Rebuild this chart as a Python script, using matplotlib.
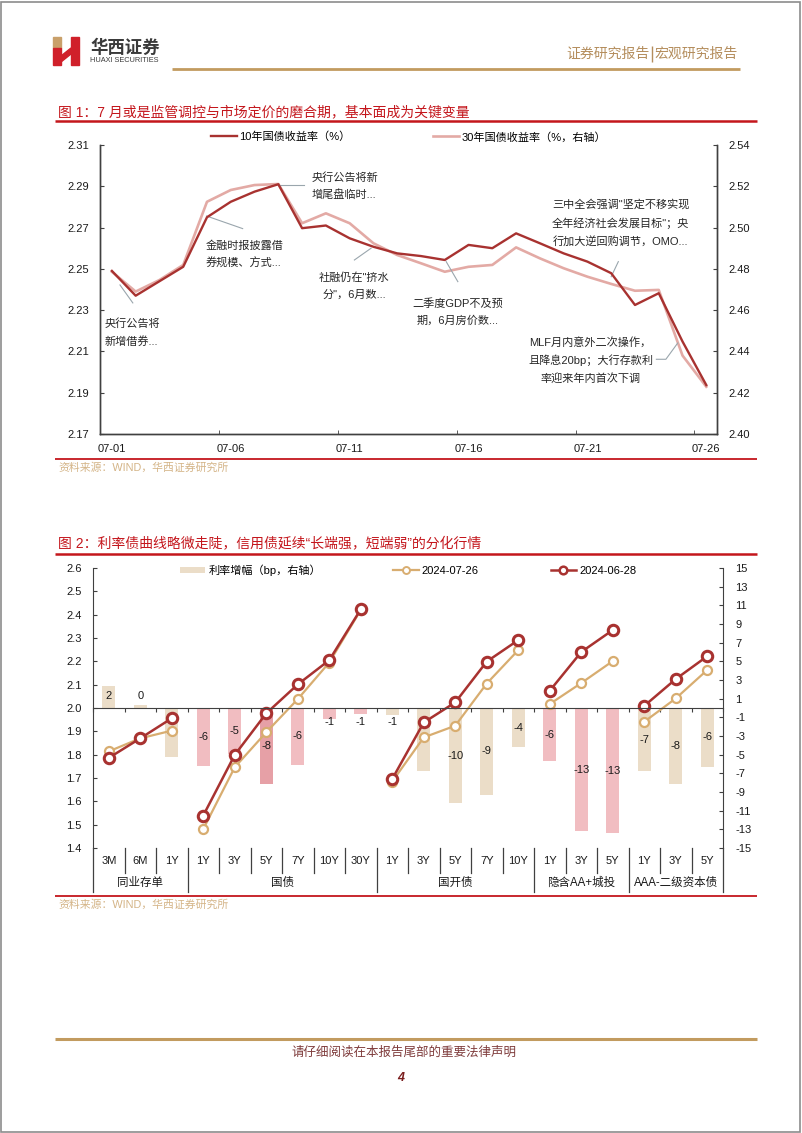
import matplotlib
matplotlib.use("Agg")
import matplotlib.pyplot as plt
import matplotlib.transforms as mtransforms
from matplotlib.lines import Line2D
from matplotlib.patches import Rectangle, Polygon, Patch
import numpy as np

plt.rcParams['font.family'] = ['Liberation Sans', 'Noto Sans CJK SC', 'DejaVu Sans']
plt.rcParams['axes.unicode_minus'] = False

##-----------------------------------------------------------------------------
## chart 1 data : 10Y / 30Y CGB yield, July 2024

dates = ['07-01', '07-02', '07-03', '07-04', '07-05', '07-06', '07-07', '07-08', '07-09',
         '07-10', '07-11', '07-12', '07-13', '07-14', '07-15', '07-16', '07-17', '07-18',
         '07-19', '07-20', '07-21', '07-22', '07-23', '07-24', '07-25', '07-26']
cgb10 = [2.249, 2.237, 2.244, 2.251, 2.275, 2.2825, 2.2874, 2.291, 2.2697,
         2.271, 2.2648, 2.2607, 2.2575, 2.2562, 2.2543, 2.2616, 2.260, 2.2672,
         2.2624, 2.2575, 2.2535, 2.2479, 2.2325, 2.2382, 2.2148, 2.1937]
cgb30 = [2.4786, 2.469, 2.4746, 2.4819, 2.5125, 2.5182, 2.5206, 2.5211, 2.5021,
         2.5069, 2.5021, 2.4924, 2.4867, 2.4827, 2.4786, 2.481, 2.4819, 2.4904,
         2.4851, 2.4803, 2.4762, 2.4727, 2.4694, 2.4698, 2.438, 2.4229]
date_labels = ['07-01', '07-06', '07-11', '07-16', '07-21', '07-26']

notes = ['央行公告将\n新增借券...',
         '金融时报披露借\n券规模、方式...',
         '央行公告将新\n增尾盘临时...',
         '社融仍在"挤水\n分"，6月数...',
         '二季度GDP不及预\n期，6月房价数...',
         '三中全会强调"坚定不移实现\n全年经济社会发展目标"；央\n行加大逆回购调节，OMO...',
         'MLF月内意外二次操作，\n且降息20bp；大行存款利\n率迎来年内首次下调']

##-----------------------------------------------------------------------------
## chart 2 data : yield curves

tenors = ['3M', '6M', '1Y', '1Y', '3Y', '5Y', '7Y', '10Y', '30Y', '1Y', '3Y', '5Y', '7Y', '10Y',
          '1Y', '3Y', '5Y', '1Y', '3Y', '5Y']
groups = ['同业存单', '国债', '国开债', '隐含AA+城投', 'AAA-二级资本债']
group_sizes = [3, 6, 5, 3, 3]
chg_bp = [2.4, 0.3, -5.3, -6.2, -4.9, -8.1, -6.1, -1.2, -0.6, -0.8, -6.7, -10.2, -9.3, -4.2,
          -5.7, -13.2, -13.4, -6.8, -8.1, -6.3]
y_0726 = [1.814, 1.870, 1.903, 1.481, 1.746, 1.896, 2.038, 2.195, 2.420, 1.685, 1.874, 1.924,
          2.105, 2.248, 2.017, 2.107, 2.201, 1.941, 2.041, 2.163]
y_0628 = [1.786, 1.870, 1.956, 1.539, 1.799, 1.977, 2.101, 2.205, 2.423, 1.696, 1.938, 2.024,
          2.199, 2.291, 2.074, 2.240, 2.334, 2.009, 2.124, 2.222]

##-----------------------------------------------------------------------------

W, H = 802, 1133
RED = '#C4161C'
GOLD = '#C29B5F'
DARK = '#A83230'
PINKLINE = '#E3AAA5'
TAN = '#D8AD70'
BEIGE = '#EBDDC8'
PINK = '#F1BDC1'
PINK_HI = '#E6A0A6'
AXC = '#404040'
TXT = '#1a1a1a'

fig = plt.figure(figsize=(W / 100, H / 100), dpi=100)


def fline(x0, x1, y0, y1, color, lw):
    fig.add_artist(Line2D([x0 / W, x1 / W], [1 - y0 / H, 1 - y1 / H], color=color, lw=lw,
                          solid_capstyle='butt'))


def ftext(x, y, s, **kw):
    fig.text(x / W, 1 - y / H, s, **kw)


# page frame
fig.add_artist(Rectangle((0.001, 0.001), 0.997, 0.997, transform=fig.transFigure,
                         fill=False, ec='#8c8c8c', lw=1.2))

# header logo
logo = [Rectangle((53 / W, 1 - 48 / H), 8 / W, 11 / H, color='#C9A06A'),
        Rectangle((53 / W, 1 - 65 / H), 8 / W, 17 / H, color='#D0202A'),
        Rectangle((71 / W, 1 - 65 / H), 8 / W, 28 / H, color='#D0202A'),
        Polygon([(61 / W, 1 - 56 / H), (71 / W, 1 - 48 / H), (71 / W, 1 - 54 / H),
                 (61 / W, 1 - 62 / H)], closed=True, color='#D0202A')]
for p in logo:
    p.set_transform(fig.transFigure)
    fig.add_artist(p)
ftext(90, 47, '华西证券', fontsize=12.5, fontweight='bold', color='#3a3a3a', va='center')
ftext(90, 61, 'HUAXI SECURITIES', fontsize=5.3, color='#3a3a3a', va='center')
ftext(650, 54, '证券研究报告', fontsize=10, color='#B48D5C', va='center', ha='right')
fline(652, 652, 46, 62, '#B48D5C', 1.0)
ftext(654, 54, '宏观研究报告', fontsize=10, color='#B48D5C', va='center', ha='left')
fline(172, 740, 69, 69, GOLD, 2.0)

# titles and sources
ftext(58, 112, '图 1：7 月或是监管调控与市场定价的磨合期，基本面成为关键变量', fontsize=10,
      color=RED, va='center')
fline(55, 757, 121, 121, RED, 1.8)
fline(55, 757, 459, 459, RED, 1.3)
ftext(58, 468, '资料来源：WIND，华西证券研究所', fontsize=7.8, color='#D4B487', va='center')

ftext(58, 544, '图 2：利率债曲线略微走陡，信用债延续“长端强，短端弱”的分化行情', fontsize=10,
      color=RED, va='center')
fline(55, 757, 554, 554, RED, 1.8)
fline(55, 757, 896, 896, RED, 1.3)
ftext(58, 905, '资料来源：WIND，华西证券研究所', fontsize=7.8, color='#D4B487', va='center')

# footer
fline(55, 757, 1039, 1039, GOLD, 2.2)
ftext(404, 1053, '请仔细阅读在本报告尾部的重要法律声明', fontsize=9, color='#7E3B3B',
      ha='center', va='center')
ftext(401, 1078, '4', fontsize=9, color='#7A1E1E', ha='center', va='center',
      fontweight='bold', style='italic')

##-----------------------------------------------------------------------------
## chart 1

ax1 = fig.add_axes([100 / W, 1 - 434 / H, 617 / W, 289 / H])
ax1r = ax1.twinx()
x = np.arange(len(dates))
l30, = ax1r.plot(x, cgb30, color=PINKLINE, lw=1.9, solid_joinstyle='round')
l10, = ax1.plot(x, cgb10, color=DARK, lw=1.7, solid_joinstyle='round')
ax1.set_zorder(ax1r.get_zorder() + 1)
ax1.patch.set_visible(False)

ax1.set_xlim(-0.5, 25.45)
ax1.set_ylim(2.17, 2.31)
ax1r.set_ylim(2.40, 2.54)
ax1.set_yticks(np.arange(2.17, 2.3101, 0.02))
ax1r.set_yticks(np.arange(2.40, 2.5401, 0.02))
ax1.yaxis.set_major_formatter(matplotlib.ticker.FormatStrFormatter('%.2f'))
ax1r.yaxis.set_major_formatter(matplotlib.ticker.FormatStrFormatter('%.2f'))
ax1.set_xticks([dates.index(d) for d in date_labels])
ax1.set_xticklabels(date_labels)
ax1.set_xticks(np.arange(-0.5, 25, 5), minor=True)
ax1.tick_params(axis='x', which='major', length=0, pad=7, labelsize=8, colors=TXT)
ax1.tick_params(axis='x', which='minor', length=3, direction='in', color=AXC)
ax1.tick_params(axis='y', length=3, direction='in', pad=8, labelsize=8, colors=TXT, color=AXC)
ax1r.tick_params(axis='y', length=3, direction='in', pad=8, labelsize=8, colors=TXT, color=AXC)
for a in (ax1, ax1r):
    a.spines['top'].set_visible(False)
    for s in ('left', 'right', 'bottom'):
        a.spines[s].set_color(AXC)
        a.spines[s].set_linewidth(1.0)

ax1.legend([l10, l30], ['10年国债收益率（%）', '30年国债收益率（%，右轴）'], ncol=2,
           loc='center', bbox_to_anchor=(0.5, 1 + 8 / 289), frameon=False, fontsize=8,
           handlelength=2.3, handletextpad=0.2, columnspacing=7.5)

note_pos = [(-0.29, 2.2192, 'left'), (3.94, 2.2567, 'left'), (8.39, 2.2901, 'left'),
            (10.2, 2.2417, 'center'), (14.54, 2.2289, 'center'), (21.4, 2.2722, 'center'),
            (20.13, 2.2058, 'center')]
for s, (tx, ty, ha) in zip(notes, note_pos):
    ax1.text(tx, ty, s, fontsize=8, color='#262626', ha=ha, va='center', linespacing=1.75,
             multialignment='center' if ha == 'center' else 'left')

leaders = [([0.88, 0.34], [2.2335, 2.2422]),
           ([3.98, 5.5], [2.2756, 2.2695]),
           ([7.06, 8.1], [2.2906, 2.2906]),
           ([10.2, 10.9], [2.2543, 2.2600]),
           ([14.06, 14.55], [2.2535, 2.2438]),
           ([21.3, 21.0], [2.2535, 2.2462]),
           ([22.9, 23.3, 23.8], [2.2062, 2.2062, 2.2141])]
for lx, ly in leaders:
    ax1.plot(lx, ly, color='#9AA6AD', lw=0.8, zorder=1)

##-----------------------------------------------------------------------------
## chart 2

ax2 = fig.add_axes([93 / W, 1 - 848 / H, 630 / W, 280 / H])
ax2r = ax2.twinx()
ax2.set_zorder(ax2r.get_zorder() + 1)
ax2.patch.set_visible(False)

xc = np.arange(len(tenors))
edges = np.concatenate([[0], np.cumsum(group_sizes)])
member = np.repeat(np.arange(len(groups)), group_sizes)
group_color = {'同业存单': BEIGE, '国债': PINK, '国开债': BEIGE, '隐含AA+城投': PINK,
               'AAA-二级资本债': BEIGE}
colors = [group_color[groups[g]] for g in member]
colors[5] = PINK_HI
ax2r.bar(xc, chg_bp, width=0.4, color=colors)

for i, v in enumerate(chg_bp):
    pos = v / 2
    if abs(pos) < 1.3:
        pos = 1.25 if round(v) >= 0 else -1.45
    ax2r.text(i, pos, '%d' % round(v), ha='center', va='center', fontsize=8, color=TXT)

for g in range(len(groups)):
    sl = slice(edges[g], edges[g + 1])
    ax2.plot(xc[sl], y_0726[sl], color=TAN, lw=1.6, marker='o', ms=6.5, mfc='white',
             mew=1.6)
    ax2.plot(xc[sl], y_0628[sl], color=DARK, lw=1.8, marker='o', ms=7.5, mfc='white',
             mew=2.2)

ax2.set_xlim(-0.5, len(tenors) - 0.5)
ax2.set_ylim(1.4, 2.6)
ax2r.set_ylim(-15, 15)
ax2.set_yticks(np.arange(1.4, 2.601, 0.1))
ax2.yaxis.set_major_formatter(matplotlib.ticker.FormatStrFormatter('%.1f'))
ax2r.set_yticks(np.arange(-15, 16, 2))
ax2.tick_params(axis='y', length=3, direction='in', pad=8, labelsize=8, colors=TXT, color=AXC)
ax2r.tick_params(axis='y', length=3, direction='in', pad=9, labelsize=8, colors=TXT, color=AXC)
ax2.set_xticks(np.arange(-0.5, len(tenors), 1))
ax2.set_xticklabels([])
ax2.tick_params(axis='x', length=3, direction='out', color=AXC)
ax2.spines['bottom'].set_position(('data', 2.0))
ax2.spines['top'].set_visible(False)
ax2.spines['right'].set_visible(False)
for s in ('top', 'bottom', 'left'):
    ax2r.spines[s].set_visible(False)
for s in ('left', 'bottom'):
    ax2.spines[s].set_color(AXC)
ax2r.spines['right'].set_color(AXC)

# two-level category axis below the plot
trans = mtransforms.blended_transform_factory(ax2.transData, ax2.transAxes)
for b in np.arange(-0.5, len(tenors)):
    long_edge = (b + 0.5) in edges
    ax2.plot([b, b], [0, -0.157 if long_edge else -0.089], transform=trans, clip_on=False,
             color=AXC, lw=0.9)
for i, t in enumerate(tenors):
    ax2.text(i, -0.046, t, transform=trans, ha='center', va='center', fontsize=8, color=TXT)
for g, name in enumerate(groups):
    ax2.text((edges[g] + edges[g + 1] - 1) / 2, -0.125, name, transform=trans, ha='center',
             va='center', fontsize=8.3, color=TXT)

h_bar = Patch(facecolor=BEIGE, edgecolor='none')
h_tan = Line2D([], [], color=TAN, lw=1.6, marker='o', ms=5, mfc='white', mew=1.4)
h_dark = Line2D([], [], color=DARK, lw=1.8, marker='o', ms=5.5, mfc='white', mew=1.8)
ax2.legend([h_bar, h_tan, h_dark], ['利率增幅（bp，右轴）', '2024-07-26', '2024-06-28'],
           ncol=3, loc='center', bbox_to_anchor=(0.5, 1 - 2 / 280), frameon=False,
           fontsize=8, handlelength=2.3, handletextpad=0.25, columnspacing=6.5,
           handleheight=0.5)

fig.savefig('out.png', dpi=100)
